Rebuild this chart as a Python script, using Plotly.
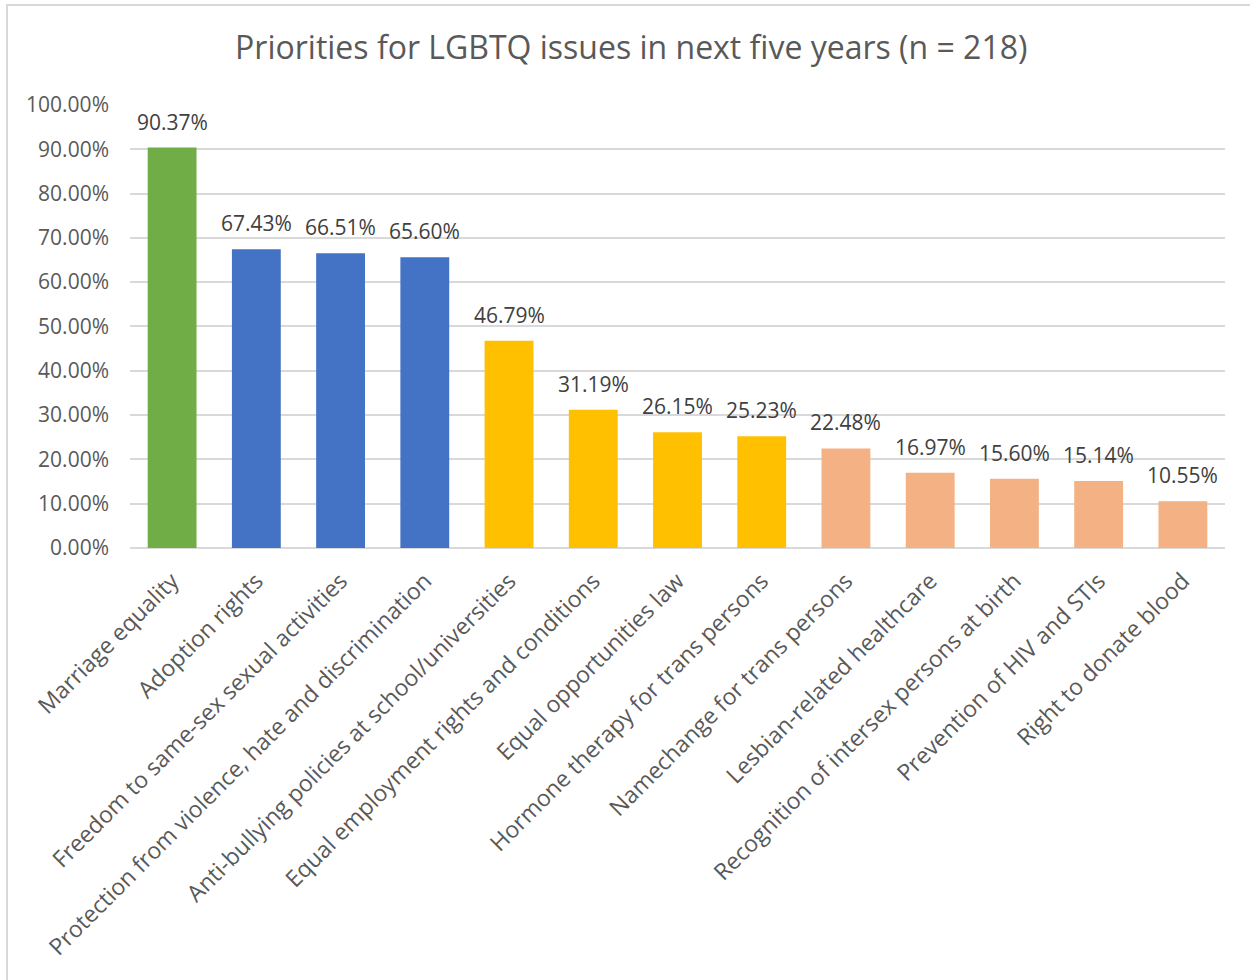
import plotly.graph_objects as go

categories = ["Marriage equality", "Adoption rights", "Freedom to same-sex sexual activities",
              "Protection from violence, hate and discrimination",
              "Anti-bullying policies at school/universities",
              "Equal employment rights and conditions", "Equal opportunities law",
              "Hormone therapy for trans persons", "Namechange for trans persons",
              "Lesbian-related healthcare", "Recognition of intersex persons at birth",
              "Prevention of HIV and STIs", "Right to donate blood"]
values = [90.37, 67.43, 66.51, 65.60, 46.79, 31.19, 26.15, 25.23, 22.48, 16.97, 15.60, 15.14, 10.55]
groups = ["green", "blue", "blue", "blue", "yellow", "yellow", "yellow", "yellow",
          "salmon", "salmon", "salmon", "salmon", "salmon"]
palette = {"green": "#70AD47", "blue": "#4472C4", "yellow": "#FFC000", "salmon": "#F4B183"}
tick_vals = [0, 10, 20, 30, 40, 50, 60, 70, 80, 90, 100]
tick_text = [f"{v:.2f}%" for v in tick_vals]

FONT = "Open Sans"

fig = go.Figure(go.Bar(
    x=categories, y=values,
    marker=dict(color=[palette[g] for g in groups], line=dict(width=0)),
    cliponaxis=False,
))

for c, v in zip(categories, values):
    fig.add_annotation(x=c, y=v, text=f"{v:.2f}%", showarrow=False,
                       xanchor="center", yanchor="middle", yshift=26,
                       font=dict(family=FONT, size=21, color="#404040"))

fig.update_layout(
    width=1250, height=980,
    margin=dict(l=130, r=25, t=104, b=432),
    paper_bgcolor="white", plot_bgcolor="white",
    bargap=0.42,
    showlegend=False,
    title=dict(text="Priorities for LGBTQ issues in next five years (n = 218)",
               x=0.505, xanchor="center", y=1 - 48/980, yanchor="middle",
               font=dict(family=FONT, size=32, color="#595959")),
    xaxis=dict(tickangle=-45, tickfont=dict(family=FONT, size=23, color="#595959"),
               showgrid=False, showline=False, ticks="", ticklabelstandoff=14),
    yaxis=dict(range=[0, 100.2], tickvals=tick_vals, ticktext=tick_text,
               tickfont=dict(family=FONT, size=21, color="#595959"),
               gridcolor="#D9D9D9", gridwidth=1.5, zeroline=True, zerolinecolor="#D9D9D9",
               zerolinewidth=1.5, showline=False, ticks="", ticklabelstandoff=20),
    shapes=[dict(type="rect", xref="paper", yref="paper",
                 x0=(7-130)/1095, x1=1.2, y0=-2, y1=(548-5)/444,
                 line=dict(color="#D9D9D9", width=2), layer="below")],
)

fig.write_html("out.html")
